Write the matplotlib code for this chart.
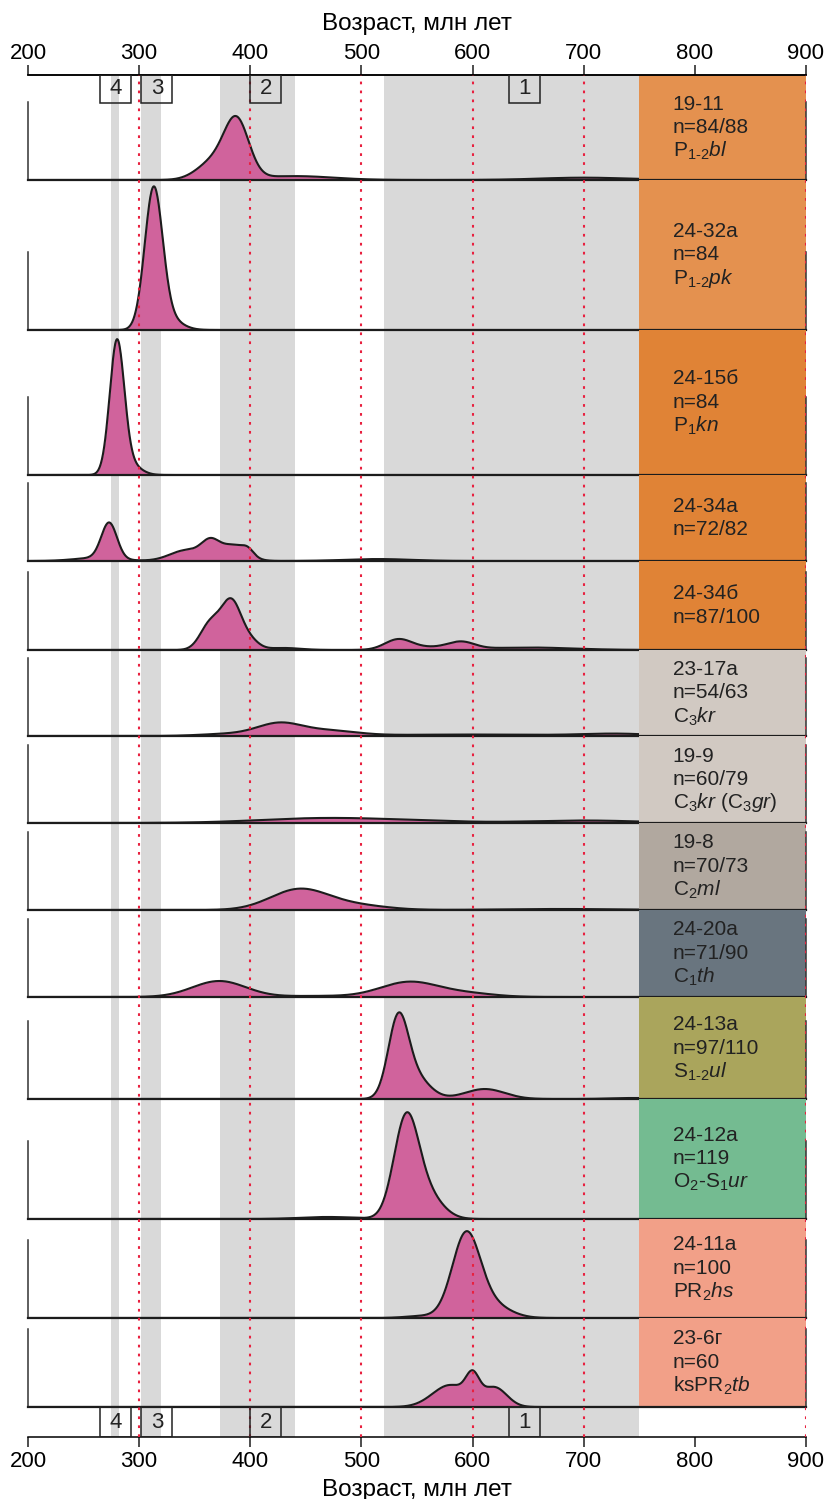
import numpy as np
import matplotlib.pyplot as plt
from matplotlib.patches import Rectangle

plt.rcParams['font.family'] = ['Liberation Sans', 'DejaVu Sans']
plt.rcParams['mathtext.fontset'] = 'custom'
plt.rcParams['mathtext.rm'] = 'Liberation Sans'
plt.rcParams['mathtext.it'] = 'Liberation Sans:italic'

# samples, top to bottom
samples = ['19-11', '24-32а', '24-15б', '24-34а', '24-34б', '23-17а', '19-9',
           '19-8', '24-20а', '24-13а', '24-12а', '24-11а', '23-6г']
counts = ['n=84/88', 'n=84', 'n=84', 'n=72/82', 'n=87/100', 'n=54/63',
          'n=60/79', 'n=70/73', 'n=71/90', 'n=97/110', 'n=119', 'n=100', 'n=60']
formations = [r'$\mathrm{P_{1‐2}}\mathit{bl}$',
              r'$\mathrm{P_{1‐2}}\mathit{pk}$',
              r'$\mathrm{P_1}\mathit{kn}$',
              None,
              None,
              r'$\mathrm{C_3}\mathit{kr}$',
              r'$\mathrm{C_3}\mathit{kr\ (}\mathrm{C_3}\mathit{gr)}$',
              r'$\mathrm{C_2}\mathit{ml}$',
              r'$\mathrm{C_1}\mathit{th}$',
              r'$\mathrm{S_{1‐2}}\mathit{ul}$',
              r'$\mathrm{O_2}$-$\mathrm{S_1}\mathit{ur}$',
              r'$\mathrm{PR_2}\mathit{hs}$',
              r'$\mathrm{ksPR_2}\mathit{tb}$']
box_colors = ['#E4914F', '#E4914F', '#E08336', '#E08336', '#E08336',
              '#D1C9C2', '#D1C9C2', '#B1A89F', '#69757F', '#AAA55C',
              '#74BB91', '#F2A088', '#F2A088']

# age peaks of each density curve (Ma), their spread and relative height
peak_age = [[388, 368, 440, 700],
            [313, 325],
            [280, 290],
            [273, 262, 364, 343, 385, 398, 515],
            [383, 364, 400, 430, 533, 590, 560, 650],
            [426, 470, 380, 600, 730],
            [470, 560, 700],
            [444, 495, 680],
            [372, 543, 595, 460],
            [533, 548, 611, 745],
            [540, 558, 470],
            [594, 615, 555],
            [600, 580, 620]]
peak_sd = [[11, 15, 35, 40],
           [8, 12],
           [6.5, 10],
           [7, 20, 8, 15, 12, 5, 30],
           [9, 9, 8, 15, 12, 12, 20, 40],
           [20, 25, 25, 80, 30],
           [60, 40, 50],
           [26, 28, 50],
           [24, 26, 25, 30],
           [9, 13, 18, 20],
           [11, 14, 25],
           [12.5, 17, 15],
           [6, 16, 11]]
peak_amp = [[0.70, 0.24, 0.05, 0.03],
            [1.75, 0.15],
            [1.65, 0.15],
            [0.46, 0.04, 0.20, 0.14, 0.20, 0.07, 0.025],
            [0.615, 0.333, 0.103, 0.026, 0.128, 0.09, 0.032, 0.032],
            [0.154, 0.064, 0.026, 0.019, 0.026],
            [0.064, 0.013, 0.032],
            [0.263, 0.058, 0.013],
            [0.205, 0.192, 0.045, 0.013],
            [0.96, 0.28, 0.128, 0.013],
            [1.22, 0.32, 0.026],
            [1.026, 0.18, 0.026],
            [0.295, 0.282, 0.244]]

# age groups shaded across all rows
band_names = ['1', '2', '3', '4']
band_start = [520, 373, 302, 275]
band_end = [750, 440, 320, 282]
band_label_x = [633, 400, 302, 265]

age_ticks = [200, 300, 400, 500, 600, 700, 800, 900]
ref_lines = [300, 400, 500, 600, 700, 900]

W, H = 825, 1499
fig = plt.figure(figsize=(W / 100, H / 100), dpi=100)

x0, x1 = 28, 806
top_px, bot_px = 75, 1437
edges = [75, 180, 330, 475, 561, 650, 736, 823, 910, 997, 1099, 1219, 1318, 1407]
unit_px = 78
rect_all = [x0 / W, 1 - bot_px / H, (x1 - x0) / W, (bot_px - top_px) / H]

pink = '#D0639C'
red = '#E8203F'
ink = '#1c1c1c'

# background: shaded age groups
bg = fig.add_axes(rect_all, zorder=0)
bg.set_xlim(200, 900)
bg.set_ylim(0, 1)
for s, e in zip(band_start, band_end):
    bg.axvspan(s, e, color='#D9D9D9', lw=0)
bg.axis('off')

ages = np.linspace(200, 900, 1401)

for i in range(len(samples)):
    t, b = edges[i], edges[i + 1]
    ax = fig.add_axes([x0 / W, 1 - b / H, (x1 - x0) / W, (b - t) / H], zorder=2)
    ax.patch.set_visible(False)
    ymax = (b - t) / unit_px
    ax.set_xlim(200, 900)
    ax.set_ylim(0, ymax)

    dens = np.zeros_like(ages)
    for a, sd, amp in zip(peak_age[i], peak_sd[i], peak_amp[i]):
        dens += amp * np.exp(-0.5 * ((ages - a) / sd) ** 2)
    ax.fill_between(ages, 0, dens, color=pink, lw=0, zorder=2)
    ax.plot(ages, dens, color=ink, lw=1.5, zorder=3)

    ax.add_patch(Rectangle((750, 0), 150, ymax, facecolor=box_colors[i],
                           edgecolor='none', zorder=4))
    lines = [samples[i], counts[i]]
    if formations[i]:
        lines.append(formations[i])
    step = 23.5 / unit_px
    for k, txt in enumerate(lines):
        y = ymax / 2 + ((len(lines) - 1) / 2 - k) * step
        ax.text(780, y, txt, fontsize=15, color='#222222', ha='left',
                va='center', zorder=5)

    ax.spines['top'].set_visible(False)
    for side in ['left', 'right']:
        ax.spines[side].set_bounds(0, 1)
        ax.spines[side].set_linewidth(1.1)
        ax.spines[side].set_color('#333333')
        ax.spines[side].set_zorder(6)
    ax.spines['bottom'].set_linewidth(1.6)
    ax.spines['bottom'].set_color(ink)
    ax.spines['bottom'].set_zorder(6)
    ax.set_xticks([])
    ax.set_yticks([])

# overlay: reference lines, age axes and group labels
ov = fig.add_axes(rect_all, zorder=3)
ov.patch.set_visible(False)
ov.set_xlim(200, 900)
ov.set_ylim(0, 1)
for x in ref_lines:
    ov.axvline(x, color=red, lw=1.5, dashes=(1.3, 3.0), zorder=7)

ov.set_xticks(age_ticks)
ov.set_yticks([])
ov.tick_params(axis='x', direction='out', length=7, width=1.1,
               labelsize=16, pad=3, color=ink)
ov.set_xlabel('Возраст, млн лет', fontsize=17.5, labelpad=5)
for side in ['left', 'right']:
    ov.spines[side].set_visible(False)
ov.spines['bottom'].set_linewidth(1.1)
ov.spines['top'].set_linewidth(1.1)

sec = ov.secondary_xaxis('top')
sec.set_xticks(age_ticks)
sec.tick_params(axis='x', direction='out', length=7, width=1.1,
                labelsize=16, pad=1, color=ink)
sec.set_xlabel('Возраст, млн лет', fontsize=17.5, labelpad=9)
sec.spines['top'].set_linewidth(1.1)

trans = ov.get_xaxis_transform()
h_top = 28 / (bot_px - top_px)
h_bot = 30 / (bot_px - top_px)
for name, bx in zip(band_names, band_label_x):
    for yb, hb in [(1 - h_top, h_top), (0, h_bot)]:
        ov.add_patch(Rectangle((bx, yb), 28, hb, transform=trans, fill=False,
                               edgecolor='#222222', lw=1.1, zorder=8))
        ov.text(bx + 14, yb + hb / 2, name, transform=trans, fontsize=16,
                ha='center', va='center', color='#222222', zorder=8)

fig.savefig('out.png', dpi=100)
